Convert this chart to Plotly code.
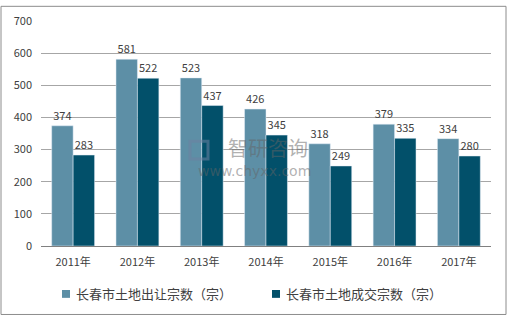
import plotly.graph_objects as go

years = ["2011年", "2012年", "2013年", "2014年", "2015年", "2016年", "2017年"]
transfer = [374, 581, 523, 426, 318, 379, 334]
deals = [283, 522, 437, 345, 249, 335, 280]
names = ["长春市土地出让宗数（宗）", "长春市土地成交宗数（宗）"]
colors = ["#5d8fa6", "#02506a"]
yticks = [0, 100, 200, 300, 400, 500, 600, 700]

FONT = "Noto Sans CJK SC"
W, H = 508, 320
L, R, T, B = 41, 17, 16, 74
pw, ph = W - L - R, H - T - B

def px(x):
    return (x - L) / pw

def py(y):
    return (H - B - y) / ph

fig = go.Figure()
for vals, nm, col in [(transfer, names[0], colors[0]), (deals, names[1], colors[1])]:
    fig.add_trace(go.Bar(x=years, y=vals, name=nm, marker_color=col,
                         text=vals, textposition="outside", cliponaxis=False,
                         textfont=dict(size=11, color="#404040", family=FONT)))

fig.update_layout(
    width=W, height=H, margin=dict(l=L, r=R, t=T, b=B),
    paper_bgcolor="white", plot_bgcolor="white",
    barmode="group", bargap=0.333, bargroupgap=0,
    font=dict(family=FONT, size=11, color="#404040"),
    showlegend=False,
    xaxis=dict(showline=True, linecolor="#808080", linewidth=1, ticks="",
               tickfont=dict(size=11, color="#404040"), ticklabelstandoff=6),
    yaxis=dict(range=[0, 700], tickvals=yticks, showgrid=True, gridcolor="#a6a6a6",
               gridwidth=1, zeroline=False, ticks="", showline=False,
               tickfont=dict(size=11, color="#404040"), ticklabelstandoff=8),
)

# manual legend
for (x0, nm, col) in [(62, names[0], colors[0]), (272, names[1], colors[1])]:
    fig.add_shape(type="rect", xref="paper", yref="paper",
                  x0=px(x0), x1=px(x0 + 8), y0=py(299), y1=py(291),
                  fillcolor=col, line=dict(width=0))
    fig.add_annotation(xref="paper", yref="paper", x=px(x0 + 12), y=py(295),
                       xanchor="left", yanchor="middle", text=nm, showarrow=False,
                       font=dict(size=13, color="#404040", family=FONT))

# outer border
fig.add_shape(type="rect", xref="paper", yref="paper",
              x0=px(1), x1=px(506), y0=py(316), y1=py(1),
              line=dict(color="#8c8c8c", width=1), layer="below")

# watermark
fig.add_annotation(xref="paper", yref="paper", x=px(268), y=py(145), text="智研咨询",
                   showarrow=False, font=dict(size=20, color="rgba(100,100,100,0.5)", family=FONT))
fig.add_annotation(xref="paper", yref="paper", x=px(254), y=py(180), text="www.chyxx.com",
                   showarrow=False, font=dict(size=14, color="rgba(100,100,100,0.5)", family="DejaVu Sans"))
fig.add_shape(type="rect", xref="paper", yref="paper",
              x0=px(190), x1=px(208), y0=py(157), y1=py(139),
              line=dict(color="rgba(110,130,160,0.55)", width=3))

fig.write_html("out.html")
